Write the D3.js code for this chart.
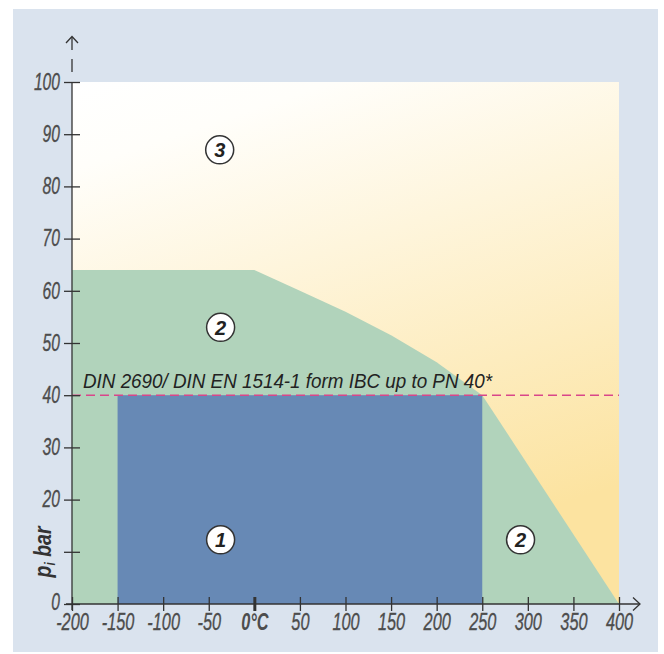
<!DOCTYPE html>
<html>
<head>
<meta charset="utf-8">
<script src="https://cdn.jsdelivr.net/npm/d3@7"></script>
<style>
  html, body { margin: 0; padding: 0; background: #fff; }
  svg { display: block; }
  .tick text { font-family: "Liberation Sans", Arial, sans-serif; font-style: italic; fill: #4d4d4d; }
</style>
</head>
<body>
<script>
// 軸の目盛り
const tempTicks = [-200, -150, -100, -50, 0, 50, 100, 150, 200, 250, 300, 350, 400];
const pressTicks = [0, 10, 20, 30, 40, 50, 60, 70, 80, 90, 100];
const pressTickLabels = ["0", "", "20", "30", "40", "50", "60", "70", "80", "90", "100"];

// 領域2の上側の境界（温度, 圧力）
const envTemp = [-200, 0, 50, 100, 150, 200, 250, 400];
const envPress = [64, 64, 60, 56, 51.5, 46.3, 40, 0];

// 領域1（青い四角）
const ratedTemp = [-150, 250];
const ratedPress = 40;

// 丸数字ラベル
const regionNames = ["3", "2", "1", "2"];
const regionTemp = [-38, -37, -37, 292];
const regionPress = [87, 53, 12.3, 12.3];

const refText = "DIN 2690/ DIN EN 1514-1 form IBC up to PN 40*";

const W = 664, H = 654;
const svg = d3.select("body").append("svg").attr("width", W).attr("height", H);

const x = d3.scaleLinear().domain([-200, 400]).range([72, 619]);
const y = d3.scaleLinear().domain([0, 100]).range([604, 82]);

const font = "'Liberation Sans', Arial, sans-serif";
// 細い字体の代わりに横方向へ縮める
const squeeze = 0.68;

// 背景パネル
svg.append("rect").attr("x", 13).attr("y", 9).attr("width", 645).attr("height", 643).attr("fill", "#dae3ee");

// グラデーション
const grad = svg.append("defs").append("linearGradient")
  .attr("id", "yel").attr("x1", 0).attr("y1", 0).attr("x2", 0.35).attr("y2", 1);
grad.append("stop").attr("offset", "0").attr("stop-color", "#ffffff");
grad.append("stop").attr("offset", "0.15").attr("stop-color", "#fffefa");
grad.append("stop").attr("offset", "1").attr("stop-color", "#fce3a0");

svg.append("rect")
  .attr("x", x(-200)).attr("y", y(100))
  .attr("width", x(400) - x(-200)).attr("height", y(0) - y(100))
  .attr("fill", "url(#yel)");

// 領域2
const envPts = envTemp.map((t, i) => [x(t), y(envPress[i])]);
envPts.push([x(-200), y(0)]);
svg.append("path")
  .attr("d", d3.line()(envPts) + "Z")
  .attr("fill", "#b1d3bb");

// 領域1
svg.append("rect")
  .attr("x", x(ratedTemp[0])).attr("y", y(ratedPress))
  .attr("width", x(ratedTemp[1]) - x(ratedTemp[0]))
  .attr("height", y(0) - y(ratedPress))
  .attr("fill", "#6789b5");

// PN40 の破線
svg.append("line")
  .attr("x1", x(-200)).attr("x2", x(400))
  .attr("y1", y(ratedPress)).attr("y2", y(ratedPress))
  .attr("stroke", "#d9468a").attr("stroke-width", 1.6)
  .attr("stroke-dasharray", "9,5");

svg.append("text")
  .attr("x", 83).attr("y", y(ratedPress) - 7)
  .attr("font-family", font).attr("font-style", "italic")
  .attr("font-size", 21).attr("fill", "#222")
  .attr("textLength", 409).attr("lengthAdjust", "spacingAndGlyphs")
  .text(refText);

// y軸
const yAxis = svg.append("g")
  .attr("transform", "translate(80,0)")
  .call(d3.axisLeft(y).tickValues(pressTicks).tickSize(16).tickSizeOuter(0).tickPadding(4)
    .tickFormat((d, i) => pressTickLabels[i]));
yAxis.select(".domain").remove();
yAxis.selectAll(".tick line").attr("stroke", "#333").attr("stroke-width", 1.3);
yAxis.selectAll(".tick text")
  .attr("font-size", 23)
  .attr("stroke", "#4d4d4d").attr("stroke-width", 0.35)
  .attr("x", 0)
  .attr("transform", (d) => `translate(-20,${d === 0 ? -2 : 0}) scale(${squeeze},1)`);

// x軸
const xAxis = svg.append("g")
  .attr("transform", "translate(0,597)")
  .call(d3.axisBottom(x).tickValues(tempTicks).tickSize(14).tickSizeOuter(0).tickPadding(2)
    .tickFormat((d) => d === 0 ? "0°C" : d));
xAxis.select(".domain").remove();
xAxis.selectAll(".tick line").attr("stroke", "#333")
  .attr("stroke-width", (d) => d === 0 ? 3 : 1.3);
xAxis.selectAll(".tick text").attr("font-size", 24)
  .attr("transform", `scale(${squeeze},1)`)
  .attr("font-weight", (d) => d === 0 ? "bold" : null)
  .attr("fill", (d) => d === 0 ? "#222" : "#4d4d4d")
  .attr("stroke", (d) => d === 0 ? "none" : "#4d4d4d").attr("stroke-width", 0.35);

// 軸線と矢印
const ax = svg.append("g").attr("stroke", "#333").attr("stroke-width", 1.3).attr("fill", "none");
ax.append("line").attr("x1", 72).attr("x2", 72).attr("y1", 610).attr("y2", y(100));
ax.append("line").attr("x1", 72).attr("x2", 72).attr("y1", 72).attr("y2", 59);
ax.append("line").attr("x1", 72).attr("x2", 72).attr("y1", 50).attr("y2", 37);
ax.append("path").attr("d", "M66,43 L72,36.5 L78,43");
ax.append("line").attr("x1", 66).attr("x2", 640).attr("y1", 604).attr("y2", 604);
ax.append("path").attr("d", "M633,597.5 L640,604 L633,610.5");

// y軸ラベル
const yl = svg.append("text")
  .attr("transform", `translate(51,552) rotate(-90) scale(0.85,1)`)
  .attr("text-anchor", "middle")
  .attr("font-family", font).attr("font-style", "italic").attr("font-weight", "bold")
  .attr("font-size", 23).attr("fill", "#333");
yl.append("tspan").text("p");
yl.append("tspan").attr("font-size", 14).attr("dy", 4).text("i");
yl.append("tspan").attr("dy", -4).text(" bar");

// 丸数字
const lab = svg.selectAll(".region")
  .data(regionNames)
  .enter()
  .append("g")
  .attr("class", "region")
  .attr("transform", (d, i) => `translate(${x(regionTemp[i])}, ${y(regionPress[i])})`);
lab.append("circle").attr("r", 14).attr("fill", "#fff").attr("stroke", "#333").attr("stroke-width", 1.5);
lab.append("text")
  .attr("text-anchor", "middle").attr("dy", "0.36em")
  .attr("font-family", font).attr("font-style", "italic").attr("font-weight", "bold")
  .attr("font-size", 20).attr("fill", "#222")
  .text((d) => d);
</script>
</body>
</html>
